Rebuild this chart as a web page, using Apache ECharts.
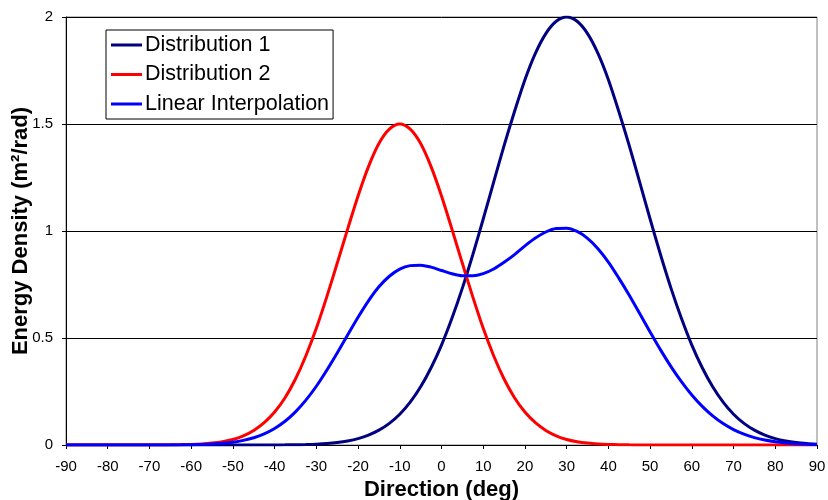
<!DOCTYPE html>
<html>
<head>
<meta charset="utf-8">
<script src="https://cdn.jsdelivr.net/npm/echarts@6/dist/echarts.min.js"></script>
<style>
html,body{margin:0;padding:0;background:#fff;}
#chart{width:828px;height:500px;}
</style>
</head>
<body>
<div id="chart"></div>
<script>
// Direction (deg), every 2.5 degrees
var directions = [-90,-87.5,-85,-82.5,-80,-77.5,-75,-72.5,-70,-67.5,-65,-62.5,-60,-57.5,-55,-52.5,-50,-47.5,-45,-42.5,-40,-37.5,-35,-32.5,-30,-27.5,-25,-22.5,-20,-17.5,-15,-12.5,-10,-7.5,-5,-2.5,0,2.5,5,7.5,10,12.5,15,17.5,20,22.5,25,27.5,30,32.5,35,37.5,40,42.5,45,47.5,50,52.5,55,57.5,60,62.5,65,67.5,70,72.5,75,77.5,80,82.5,85,87.5,90];
// Energy density (m^2/rad)
var distribution1 = [0,0,0,0,0,0,0,0,0,0,0,0,0,0,0,0,
  0.00002,0.00004,0.00008,0.00016,0.00033,0.00065,0.00124,0.00227,0.00403,0.00694,0.01167,0.019,0.030,0.0461,0.0693,0.1012,0.144,0.2003,0.272,0.361,0.467,0.592,0.733,0.889,1.056,1.228,1.399,1.5586,1.707,1.830,1.9225,1.980,2.0,
  1.980,1.9225,1.830,1.707,1.5586,1.399,1.228,1.056,0.889,0.733,0.592,0.467,0.361,0.272,0.2003,0.144,0.1012,0.0693,0.0461,0.030,0.019,0.01167,0.00694,0.00403];
var distribution2 = [0,0,0,0,0,0,0,
  0.00005,0.0001,0.0003,0.0007,0.0014,0.0027,0.005,0.009,0.0155,0.026,0.043,0.068,0.104,0.154,0.221,0.3085,0.417,0.545,0.692,0.849,1.009,1.164,1.301,1.409,1.476,1.5,
  1.476,1.409,1.301,1.164,1.009,0.849,0.692,0.545,0.417,0.3085,0.221,0.154,0.104,0.068,0.043,0.026,0.0155,0.009,0.005,0.0027,0.0014,0.0007,0.0003,0.0001,0.00005,
  0,0,0,0,0,0,0,0,0,0,0,0,0,0,0];
var linearInterpolation = [0,0,0,0,0,0,0,
  0.00003,0.00005,0.00015,0.00035,0.0007,0.00135,0.0025,0.0045,0.00775,0.013,0.0215,0.034,0.0521,0.0772,0.1108,0.1549,0.2096,0.2745,0.3495,0.4303,0.514,0.597,0.6736,0.7392,0.7886,0.822,
  0.8382,0.8405,0.831,0.8155,0.8005,0.791,0.7905,0.8005,0.8225,0.8538,0.8898,0.9305,0.967,0.9953,1.0115,1.013,0.9978,0.9658,0.9175,0.8549,
  0.78,0.6999,0.6142,0.5281,0.4445,0.3665,0.296,0.2335,0.1805,0.136,0.1002,0.072,0.0506,0.0347,0.0231,0.015,0.0095,0.0058,0.0035,0.002];
var seriesNames = ['Distribution 1','Distribution 2','Linear Interpolation'];
var seriesColors = ['#000080','#ff0000','#0000ff'];
var yTickLabels = {0:'0',0.5:'0.5',1:'1',1.5:'1.5',2:'2'};

function pairs(vals){ return directions.map(function(d,i){ return [d, vals[i]]; }); }

var chart = echarts.init(document.getElementById('chart'), null, {renderer:'canvas'});
var font = 'Liberation Sans, Arial, sans-serif';
var allVals = [distribution1, distribution2, linearInterpolation];
chart.setOption({
  animation:false,
  backgroundColor:'#fff',
  grid:{left:66,top:17,width:751,height:428,outerBoundsMode:'none',containLabel:false,show:true,borderColor:'#808080',borderWidth:1,backgroundColor:'transparent'},
  legend:{
    orient:'vertical', left:106, top:30,
    data:seriesNames,
    icon:'rect', itemWidth:31, itemHeight:3, itemGap:7.5,
    padding:[4,4,4,5],
    borderColor:'#000', borderWidth:1, backgroundColor:'#fff',
    textStyle:{fontFamily:font,fontSize:21.5,color:'#000',padding:[0,0,0,-2]}
  },
  xAxis:{
    type:'value', min:-90, max:90, interval:10,
    name:'Direction (deg)', nameLocation:'middle', nameGap:34, nameMoveOverlap:false,
    nameTextStyle:{fontFamily:font,fontSize:22,fontWeight:'bold',color:'#000'},
    axisLine:{show:true,onZero:false,lineStyle:{color:'#000',width:1}},
    axisTick:{show:true,inside:false,length:4,lineStyle:{color:'#000'}},
    axisLabel:{fontFamily:font,fontSize:15,color:'#000',margin:14},
    splitLine:{show:false}
  },
  yAxis:{
    type:'value', min:0, max:2, interval:0.5,
    name:'Energy Density (m²/rad)', nameLocation:'middle', nameGap:34, nameRotate:90, nameMoveOverlap:false,
    nameTextStyle:{fontFamily:font,fontSize:22,fontWeight:'bold',color:'#000',verticalAlign:'bottom'},
    axisLine:{show:true,onZero:false,lineStyle:{color:'#000',width:1}},
    axisTick:{show:true,inside:false,length:4,lineStyle:{color:'#000'}},
    axisLabel:{fontFamily:font,fontSize:15,color:'#000',margin:13,formatter:function(v){return yTickLabels[v]!==undefined?yTickLabels[v]:'';}},
    splitLine:{show:true,lineStyle:{color:'#000',width:1}}
  },
  series: seriesNames.map(function(n,i){
    return {
      name:n, type:'line', data:pairs(allVals[i]), smooth:0.3,
      showSymbol:false, symbol:'none',
      color:seriesColors[i],
      lineStyle:{color:seriesColors[i],width:3},
      itemStyle:{color:seriesColors[i]}
    };
  })
});
</script>
</body>
</html>
